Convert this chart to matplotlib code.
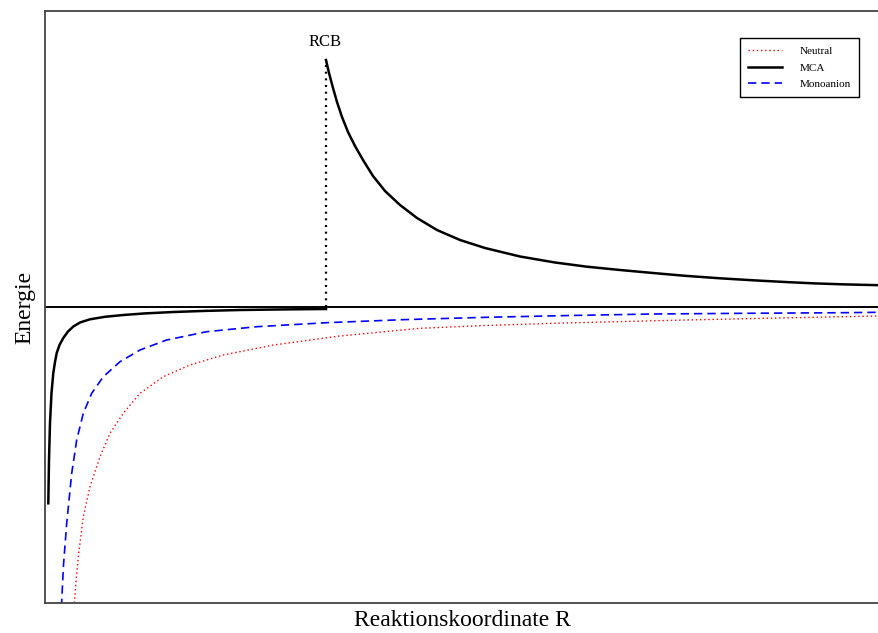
import matplotlib
matplotlib.use('Agg')
import matplotlib.pyplot as plt

plt.rcParams['font.family'] = ['Liberation Serif', 'DejaVu Serif']

# reaction coordinate / energy, arbitrary units
mca_left_x = [3.3, 4.0, 5.0, 6.5, 8.3, 10.0, 11.7, 14.5, 18.3, 23.0, 28.3, 35.0, 45.0, 60.0, 78.3, 100.0, 128.3, 160.0, 195.0, 240.0, 281.0]
mca_left_y = [-196.3, -153.0, -116.0, -86.0, -66.0, -55.0, -46.0, -38.0, -31.0, -24.5, -19.5, -15.5, -12.3, -9.8, -8.0, -6.4, -5.0, -3.9, -3.0, -2.4, -2.0]

mca_right_x = [281, 284, 288, 292, 297, 303, 310, 318, 328, 340, 355, 372, 392, 415, 440, 475, 510, 542, 575, 608, 640, 675, 710, 742, 770, 800, 834]
mca_right_y = [247.0, 234.0, 219.0, 205.0, 190.0, 175.0, 161.0, 147.0, 131.0, 116.0, 102.0, 89.0, 77.0, 67.0, 59.0, 50.5, 44.5, 40.3, 37.0, 34.0, 31.2, 28.7, 26.6, 24.9, 23.6, 22.6, 21.8]

mono_x = [16.4, 18.5, 21.7, 26.7, 31.7, 38.3, 46.7, 58.3, 75.0, 95.0, 121.7, 161.7, 211.7, 281.7, 360.0, 441.7, 525.0, 608.3, 700.0, 797.7, 834.0]
mono_y = [-300.0, -258.0, -216.3, -166.3, -133.0, -106.3, -86.3, -69.7, -54.7, -43.0, -33.0, -24.7, -19.7, -15.7, -12.6, -10.3, -8.5, -7.0, -6.3, -5.7, -5.3]

neutral_x = [29.0, 31.0, 33.3, 38.3, 45.0, 55.0, 65.0, 78.3, 95.0, 118.3, 145.0, 178.3, 228.3, 295.0, 375.0, 440.0, 508.3, 575.0, 641.7, 720.0, 797.7, 834.0]
neutral_y = [-300.0, -275.0, -249.7, -209.7, -179.7, -149.7, -126.3, -106.3, -86.3, -69.7, -58.0, -48.0, -38.0, -29.0, -21.3, -18.5, -16.3, -14.6, -13.0, -11.3, -9.7, -9.0]

rcb_x = 281.0
rcb_top = 247.0


def main():
    fig = plt.figure(figsize=(8.79, 6.33), dpi=100)
    ax = fig.add_axes([45 / 879, 1 - 603 / 633, 1 - 45 / 879, (603 - 11) / 633])

    ax.plot(neutral_x, neutral_y, color='#ff0000', lw=1.0, linestyle=(0, (1, 2)), label='Neutral')
    ax.plot(mca_left_x, mca_left_y, color='black', lw=1.8, label='MCA')
    ax.plot(mca_right_x, mca_right_y, color='black', lw=1.8)
    ax.plot(mono_x, mono_y, color='#0000ff', lw=1.2, linestyle=(0, (5, 3)), label='Monoanion')

    ax.axhline(0, color='black', lw=1.4)
    ax.plot([rcb_x, rcb_x], [0, rcb_top], color='black', lw=1.6, linestyle=(0, (0.9, 2.1)))
    ax.text(rcb_x - 1, 265, 'RCB', ha='center', va='center', fontsize=12)

    ax.set_xlim(0, 834)
    ax.set_ylim(-296, 296)
    ax.set_xticks([])
    ax.set_yticks([])
    for side in ['left', 'bottom', 'top']:
        ax.spines[side].set_color('#444444')
        ax.spines[side].set_linewidth(1.3)
    ax.spines['right'].set_visible(False)

    ax.set_xlabel('Reaktionskoordinate R', fontsize=17, labelpad=5)
    ax.set_ylabel('Energie', fontsize=17, labelpad=7)

    leg = ax.legend(loc='upper right', bbox_to_anchor=(859 / 879, 1 - 38 / 633),
                    bbox_transform=fig.transFigure, borderaxespad=0, fontsize=8,
                    fancybox=False, framealpha=1, edgecolor='black',
                    handlelength=3.0, handletextpad=1.6, labelspacing=0.6,
                    borderpad=0.75)
    leg.get_frame().set_linewidth(1.0)

    fig.savefig('out.png', dpi=100)
    plt.close(fig)


if __name__ == '__main__':
    main()
